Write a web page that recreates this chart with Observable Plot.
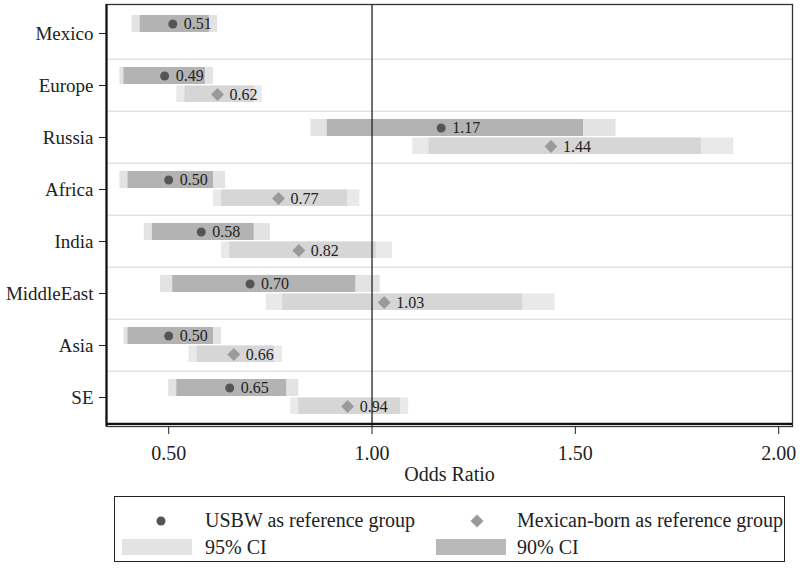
<!DOCTYPE html>
<html>
<head>
<meta charset="utf-8">
<script src="https://cdn.jsdelivr.net/npm/d3@7"></script>
<script src="https://cdn.jsdelivr.net/npm/@observablehq/plot@0.6"></script>
<style>
  html, body { margin: 0; padding: 0; background: #fff; }
  #wrap { position: relative; width: 800px; height: 568px; font-family: "Liberation Serif", "Times New Roman", serif; }
  #legend { position: absolute; left: 114px; top: 496px; width: 671px; height: 66px; border: 1.5px solid #222; box-sizing: border-box; font-size: 20px; color: #222; }
  .li { position: absolute; line-height: 20px; }
  .sw { position: absolute; height: 16px; width: 70px; }
</style>
</head>
<body>
<div id="wrap">
  <div id="chart"></div>
  <div id="legend">
    <svg class="li" style="left:40px;top:18px" width="12" height="12"><circle cx="6" cy="6" r="4.5" fill="#555"/></svg>
    <div class="li" style="left:90px;top:13px">USBW as reference group</div>
    <svg class="li" style="left:354px;top:16px" width="16" height="16"><path d="M8 1.5L14.5 8L8 14.5L1.5 8Z" fill="#9a9a9a"/></svg>
    <div class="li" style="left:402px;top:13px">Mexican-born as reference group</div>
    <div class="sw" style="left:7px;top:42px;background:#e3e3e3"></div>
    <div class="li" style="left:90px;top:40px">95% CI</div>
    <div class="sw" style="left:321px;top:42px;background:#b9b9b9"></div>
    <div class="li" style="left:402px;top:40px">90% CI</div>
  </div>
</div>
<script>
const categories = ["Mexico", "Europe", "Russia", "Africa", "India", "MiddleEast", "Asia", "SE"];

// USBW as reference group
const usbwOR   = [0.51, 0.49, 1.17, 0.50, 0.58, 0.70, 0.50, 0.65];
const usbw95lo = [0.41, 0.38, 0.85, 0.38, 0.44, 0.48, 0.39, 0.50];
const usbw95hi = [0.62, 0.61, 1.60, 0.64, 0.75, 1.02, 0.63, 0.82];
const usbw90lo = [0.43, 0.39, 0.89, 0.40, 0.46, 0.51, 0.40, 0.52];
const usbw90hi = [0.60, 0.59, 1.52, 0.61, 0.71, 0.96, 0.61, 0.79];

// Mexican-born as reference group (no estimate for Mexico itself)
const mexOR   = [null, 0.62, 1.44, 0.77, 0.82, 1.03, 0.66, 0.94];
const mex95lo = [null, 0.52, 1.10, 0.61, 0.63, 0.74, 0.55, 0.80];
const mex95hi = [null, 0.73, 1.89, 0.97, 1.05, 1.45, 0.78, 1.09];
const mex90lo = [null, 0.54, 1.14, 0.63, 0.65, 0.78, 0.57, 0.82];
const mex90hi = [null, 0.71, 1.81, 0.94, 1.01, 1.37, 0.76, 1.07];

const xTicks = [0.5, 1.0, 1.5, 2.0];

const usbw = categories.map((c, i) => ({cat: c, or: usbwOR[i], lo95: usbw95lo[i], hi95: usbw95hi[i], lo90: usbw90lo[i], hi90: usbw90hi[i]}));
const mex = categories.map((c, i) => ({cat: c, or: mexOR[i], lo95: mex95lo[i], hi95: mex95hi[i], lo90: mex90lo[i], hi90: mex90hi[i]})).filter(d => d.or != null);

const W = 800, H = 490, mL = 106, mR = 8, mT = 4, mB = 64;
const half = (H - mT - mB) / categories.length / 2;
const xMin = 0.347, xMax = 2.034;

const chart = Plot.plot({
  width: W, height: H,
  marginLeft: mL, marginRight: mR, marginTop: mT, marginBottom: mB,
  style: {fontFamily: "'Liberation Serif', 'Times New Roman', serif", color: "#222", background: "#fff"},
  x: {domain: [xMin, xMax]},
  y: {domain: categories, padding: 0},
  marks: [
    Plot.ruleY(categories.slice(1), {dy: -half, stroke: "#e2e2e2", strokeWidth: 1.5}),
    Plot.barX(usbw, {y: "cat", x1: "lo95", x2: "hi95", fill: "#e3e3e3", insetTop: 8, insetBottom: 27}),
    Plot.barX(usbw, {y: "cat", x1: "lo90", x2: "hi90", fill: "#b3b3b3", insetTop: 8, insetBottom: 27}),
    Plot.barX(mex, {y: "cat", x1: "lo95", x2: "hi95", fill: "#e9e9e9", insetTop: 26.5, insetBottom: 9}),
    Plot.barX(mex, {y: "cat", x1: "lo90", x2: "hi90", fill: "#d6d6d6", insetTop: 26.5, insetBottom: 9}),
    Plot.ruleX([1], {stroke: "#222", strokeWidth: 1.3}),
    Plot.frame({stroke: "#333", strokeWidth: 1.3}),
    Plot.ruleX([xMin], {stroke: "#111", strokeWidth: 2.2}),
    Plot.ruleY([categories[categories.length - 1]], {dy: half, stroke: "#111", strokeWidth: 2.2}),
    Plot.dot(usbw, {y: "cat", x: "or", r: 4.5, fill: "#555", dy: -9.5}),
    Plot.dot(mex, {y: "cat", x: "or", r: 5.8, symbol: "diamond2", fill: "#9a9a9a", dy: 9}),
    Plot.text(usbw, {y: "cat", x: "or", text: d => d.or.toFixed(2), dx: 11, dy: -9.5, textAnchor: "start", fontSize: 16, fill: "#222"}),
    Plot.text(mex, {y: "cat", x: "or", text: d => d.or.toFixed(2), dx: 12, dy: 9, textAnchor: "start", fontSize: 16, fill: "#222"}),
    Plot.axisY({fontSize: 19, tickSize: 7, tickPadding: 6, label: null, stroke: "#222"}),
    Plot.axisX({ticks: xTicks, tickFormat: d3.format(".2f"), fontSize: 20, tickSize: 8, tickPadding: 11, label: null}),
    Plot.text(["Odds Ratio"], {frameAnchor: "bottom", lineAnchor: "middle", dy: 48, fontSize: 20, fill: "#222"})
  ]
});
document.getElementById("chart").appendChild(chart);
</script>
</body>
</html>
